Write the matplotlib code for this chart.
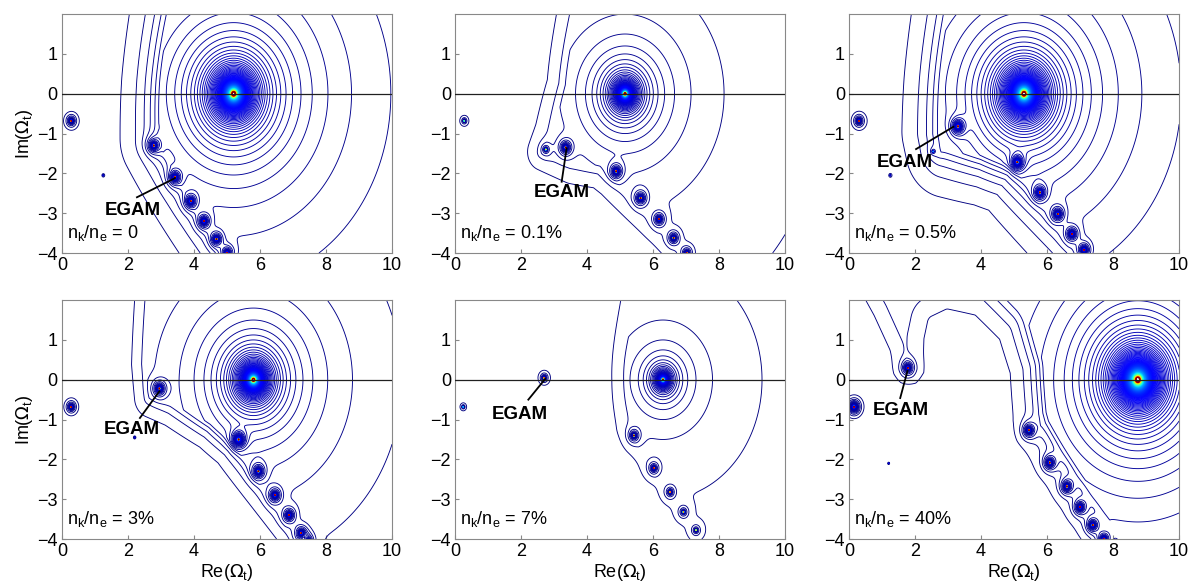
import numpy as np
import matplotlib
matplotlib.use('Agg')
import matplotlib.pyplot as plt
from matplotlib.path import Path
from matplotlib.colors import Normalize

plt.rcParams['font.family'] = ['Liberation Sans', 'DejaVu Sans']

# fraction of energetic particles for each panel
labels = ['0', '0.1%', '0.5%', '3%', '7%', '40%']

# main (GAM) root on the real axis and its strength
main_re = [5.2, 5.15, 5.3, 5.8, 6.3, 8.75]
main_amp = [1.0, 0.42, 1.0, 0.63, 0.21, 1.25]

# other roots (Re, Im, strength)
root_re = [
    [0.28, 2.78, 3.42, 3.9, 4.3, 4.68, 5.0, 1.25],
    [0.28, 2.75, 3.35, 4.88, 5.62, 6.18, 6.62, 7.02],
    [0.3, 2.55, 3.3, 5.1, 5.78, 6.32, 6.75, 7.12, 1.25],
    [0.28, 2.95, 2.2, 5.35, 5.95, 6.45, 6.88, 7.25, 7.45],
    [0.25, 2.7, 5.42, 6.02, 6.52, 6.92, 7.3],
    [0.15, 1.78, 5.45, 6.08, 6.6, 7.0, 7.38, 7.72, 1.2],
]
root_im = [
    [-0.68, -1.3, -2.1, -2.7, -3.2, -3.65, -4.0, -2.05],
    [-0.68, -1.4, -1.35, -1.95, -2.62, -3.15, -3.62, -4.0],
    [-0.68, -1.45, -0.82, -1.72, -2.48, -3.02, -3.52, -3.92, -2.05],
    [-0.68, -0.22, -1.45, -1.5, -2.3, -2.9, -3.4, -3.85, -4.05],
    [-0.68, 0.05, -1.4, -2.22, -2.82, -3.32, -3.78],
    [-0.68, 0.3, -1.27, -2.08, -2.68, -3.2, -3.65, -4.0, -2.1],
]
root_res = [
    [0.03, 0.045, 0.048, 0.045, 0.044, 0.044, 0.044, 0.002],
    [0.012, 0.015, 0.045, 0.045, 0.04, 0.035, 0.033, 0.03],
    [0.03, 0.006, 0.06, 0.065, 0.05, 0.048, 0.046, 0.045, 0.002],
    [0.03, 0.05, 0.002, 0.08, 0.05, 0.045, 0.042, 0.04, 0.035],
    [0.008, 0.02, 0.03, 0.025, 0.02, 0.018, 0.015],
    [0.06, 0.04, 0.045, 0.045, 0.044, 0.044, 0.044, 0.044, 0.002],
]

# edge of the damped region (top end -> bottom end), decay rate and inset
edge_x = [
    [3.2, 3.0, 2.9, 5.0],
    [3.6, 3.4, 2.9, 2.6, 3.5, 4.4, 4.8, 7.0],
    [3.0, 2.8, 2.7, 2.8, 4.0, 4.95, 7.1],
    [2.6, 2.55, 2.65, 3.3, 4.5, 5.2, 7.3],
    [5.2, 5.3, 5.3, 5.5, 7.4],
    [-0.45, 0.45, 0.95, 1.15, 1.5, 2.1, 2.45, 2.5, 2.6, 3.0, 3.8, 4.6, 5.0, 5.1, 5.25, 7.5],
]
edge_y = [
    [2.4, 0.3, -1.2, -4.4],
    [2.4, 0.2, -1.0, -1.5, -1.75, -1.8, -2.1, -4.4],
    [2.4, 0.3, -1.0, -1.45, -1.55, -1.8, -4.4],
    [2.4, 0.4, -0.45, -0.6, -1.1, -1.6, -4.4],
    [2.4, 0.0, -1.2, -1.6, -4.4],
    [2.6, 1.4, 0.6, 0.0, -0.27, -0.27, 0.1, 1.0, 1.4, 1.6, 1.55, 1.05, 0.2, -1.0, -1.45, -4.5],
]
decay = [1.2, 1.5, 1.2, 2.0, 1.2, 1.5]
inset = [0.0, 0.0, 0.0, 0.0, 0.0, 0.9]

# EGAM label: text position and pointer start/end
egam_text = [(2.14, -2.93), (3.22, -2.49), (1.69, -1.73), (2.12, -1.24), (1.95, -0.88), (1.57, -0.77)]
egam_from = [(2.27, -2.6), (3.23, -2.21), (2.03, -1.39), (2.36, -0.96), (2.22, -0.5), (1.55, -0.46)]
egam_to = [(3.42, -2.12), (3.38, -1.37), (3.16, -0.83), (2.95, -0.29), (2.73, 0.02), (1.77, 0.22)]

x = np.linspace(0, 10, 1001)
y = np.linspace(-4, 2, 601)
X, Y = np.meshgrid(x, y)
pts = np.c_[X.ravel(), Y.ravel()]

dL = 0.07
levels = np.r_[dL * np.arange(1, 86), np.linspace(6, 22, 45)]
norm = Normalize(0, 22)


def damping(ex, ey, g, pad):
    d = np.full(X.shape, np.inf)
    for i in range(len(ex) - 1):
        vx, vy = ex[i + 1] - ex[i], ey[i + 1] - ey[i]
        t = np.clip(((X - ex[i]) * vx + (Y - ey[i]) * vy) / (vx * vx + vy * vy), 0, 1)
        d = np.minimum(d, np.hypot(X - ex[i] - t * vx, Y - ey[i] - t * vy))
    poly = list(zip(ex, ey)) + [(ex[-1], -9), (-9, -9), (-9, ey[0])]
    inside = Path(poly).contains_points(pts).reshape(X.shape)
    u = np.where(inside, -d, d)
    return np.exp(g * np.minimum(u - pad, 0))


fig = plt.figure(figsize=(11.95, 5.88), dpi=100)
lefts = [0.0519, 0.3808, 0.7105]
bottoms = [0.5697, 0.0833]
w, h = 0.2762, 0.4063

for k in range(6):
    r, c = divmod(k, 3)
    ax = fig.add_axes([lefts[c], bottoms[r], w, h])
    S = damping(edge_x[k], edge_y[k], decay[k], inset[k])
    Q = main_amp[k] * S / np.sqrt((X - main_re[k]) ** 2 + Y ** 2 + 1e-6)
    for xr, yr, rr in zip(root_re[k], root_im[k], root_res[k]):
        d = np.sqrt((X - xr) ** 2 + (Y - yr) ** 2 + 1e-6)
        Q += rr / d * np.exp(-(d / 0.28) ** 2)
    ax.contour(X, Y, Q, levels=levels, cmap='jet', norm=norm, linewidths=0.65)
    ax.axhline(0, color='#202020', lw=0.9, zorder=3)

    (fx, fy), (tx, ty) = egam_from[k], egam_to[k]
    ax.plot([fx, tx], [fy, ty], color='k', lw=1.3, zorder=4)
    ax.text(egam_text[k][0], egam_text[k][1], 'EGAM', fontsize=13.5, fontweight='bold',
            ha='center', va='center', zorder=5)
    ax.text(0.15, -3.5, r'n$_\mathregular{k}$/n$_\mathregular{e}$ = ' + labels[k],
            fontsize=13, ha='left', va='center', zorder=5)

    ax.set_xlim(0, 10)
    ax.set_ylim(-4, 2)
    ax.set_xticks([0, 2, 4, 6, 8, 10])
    ax.set_yticks([-4, -3, -2, -1, 0, 1])
    ax.tick_params(direction='in', length=3, color='#888888', labelsize=13, pad=3)
    for s in ax.spines.values():
        s.set_color('#888888')
    if c == 0:
        ax.set_ylabel(r'Im($\Omega_\mathregular{t}$)', fontsize=13, labelpad=2)
    if r == 1:
        ax.set_xlabel(r'Re($\Omega_\mathregular{t}$)', fontsize=13, labelpad=1)

fig.savefig('out.png', dpi=100)
